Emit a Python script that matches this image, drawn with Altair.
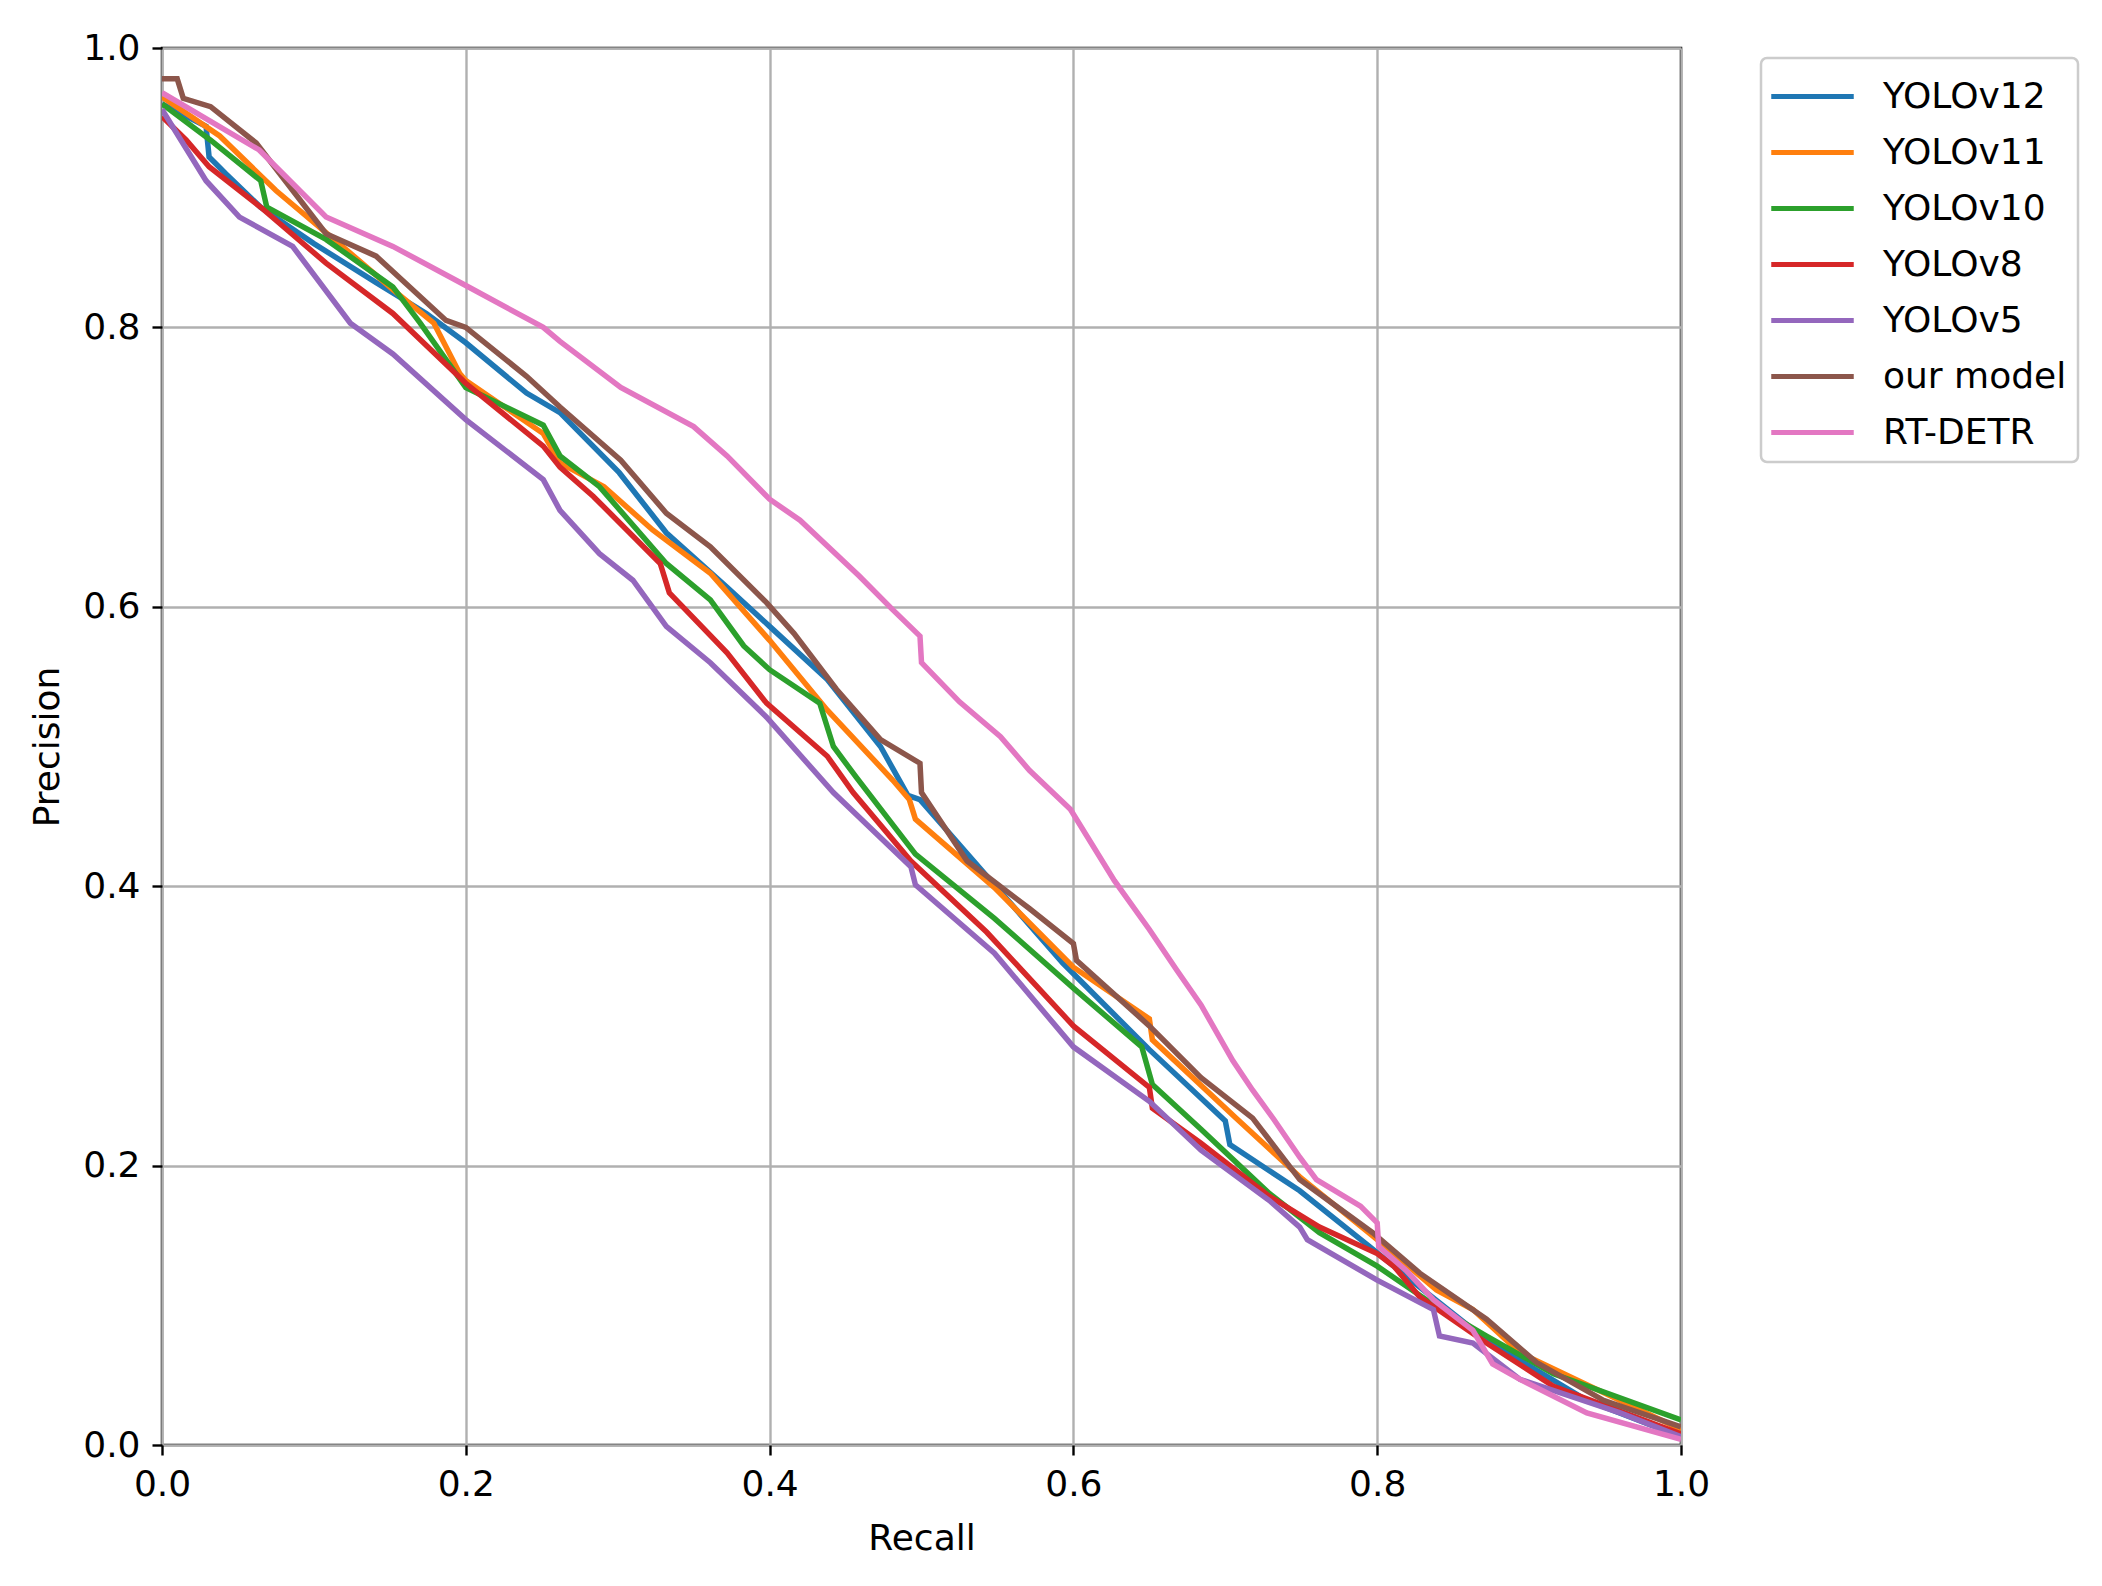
import altair as alt
import pandas as pd

models = ["YOLOv12", "YOLOv11", "YOLOv10", "YOLOv8", "YOLOv5", "our model", "RT-DETR"]
colors = ["#1f77b4", "#ff7f0e", "#2ca02c", "#d62728", "#9467bd", "#8c564b", "#e377c2"]

r_yolov12 = [0.0, 0.029, 0.031, 0.042, 0.065, 0.100, 0.141, 0.174, 0.200, 0.240, 0.262, 0.301, 0.332, 0.372, 0.400, 0.438, 0.473, 0.491, 0.499, 0.548, 0.593, 0.650, 0.700, 0.703, 0.749, 0.795, 0.828, 0.872, 0.938, 1.0]
p_yolov12 = [0.960, 0.944, 0.922, 0.910, 0.886, 0.860, 0.832, 0.810, 0.789, 0.753, 0.739, 0.696, 0.653, 0.614, 0.586, 0.548, 0.500, 0.465, 0.462, 0.401, 0.345, 0.283, 0.232, 0.215, 0.182, 0.142, 0.113, 0.075, 0.032, 0.006]

r_yolov11 = [0.0, 0.038, 0.075, 0.122, 0.152, 0.179, 0.196, 0.200, 0.251, 0.262, 0.291, 0.323, 0.361, 0.400, 0.438, 0.481, 0.492, 0.496, 0.548, 0.600, 0.650, 0.652, 0.707, 0.749, 0.800, 0.839, 0.863, 0.894, 1.0]
p_yolov11 = [0.965, 0.937, 0.898, 0.855, 0.827, 0.803, 0.767, 0.762, 0.724, 0.703, 0.686, 0.655, 0.624, 0.576, 0.526, 0.476, 0.462, 0.448, 0.399, 0.342, 0.305, 0.290, 0.234, 0.192, 0.147, 0.111, 0.097, 0.066, 0.011]

r_yolov10 = [0.0, 0.032, 0.065, 0.069, 0.108, 0.152, 0.170, 0.200, 0.251, 0.262, 0.288, 0.332, 0.361, 0.383, 0.400, 0.433, 0.442, 0.457, 0.496, 0.548, 0.600, 0.645, 0.652, 0.684, 0.729, 0.762, 0.800, 0.839, 0.872, 0.916, 1.0]
p_yolov10 = [0.960, 0.934, 0.905, 0.886, 0.863, 0.829, 0.803, 0.757, 0.730, 0.708, 0.686, 0.631, 0.605, 0.572, 0.555, 0.531, 0.500, 0.478, 0.423, 0.377, 0.327, 0.285, 0.258, 0.226, 0.180, 0.152, 0.128, 0.099, 0.078, 0.051, 0.018]

r_yolov8 = [0.0, 0.016, 0.031, 0.065, 0.108, 0.152, 0.200, 0.251, 0.262, 0.284, 0.328, 0.334, 0.372, 0.398, 0.438, 0.455, 0.493, 0.543, 0.600, 0.650, 0.652, 0.684, 0.729, 0.762, 0.800, 0.811, 0.828, 0.872, 0.916, 1.0]
p_yolov8 = [0.951, 0.934, 0.915, 0.886, 0.846, 0.810, 0.760, 0.715, 0.700, 0.679, 0.631, 0.610, 0.567, 0.531, 0.493, 0.467, 0.418, 0.367, 0.300, 0.256, 0.241, 0.216, 0.178, 0.156, 0.137, 0.128, 0.106, 0.073, 0.042, 0.008]

r_yolov5 = [0.0, 0.029, 0.051, 0.086, 0.124, 0.152, 0.200, 0.251, 0.262, 0.288, 0.310, 0.332, 0.361, 0.398, 0.442, 0.493, 0.496, 0.548, 0.600, 0.650, 0.684, 0.729, 0.749, 0.754, 0.800, 0.837, 0.841, 0.863, 0.894, 0.960, 1.0]
p_yolov5 = [0.956, 0.905, 0.879, 0.858, 0.803, 0.781, 0.734, 0.691, 0.669, 0.638, 0.619, 0.586, 0.560, 0.521, 0.467, 0.414, 0.401, 0.352, 0.285, 0.246, 0.211, 0.175, 0.156, 0.147, 0.118, 0.097, 0.078, 0.073, 0.047, 0.023, 0.006]

r_ours = [0.0, 0.010, 0.014, 0.032, 0.062, 0.108, 0.141, 0.187, 0.200, 0.240, 0.262, 0.302, 0.332, 0.361, 0.398, 0.416, 0.444, 0.473, 0.499, 0.500, 0.530, 0.571, 0.600, 0.602, 0.650, 0.684, 0.718, 0.749, 0.797, 0.828, 0.872, 0.905, 0.949, 1.0]
p_ours = [0.978, 0.978, 0.964, 0.958, 0.932, 0.867, 0.851, 0.805, 0.800, 0.765, 0.743, 0.705, 0.667, 0.643, 0.603, 0.581, 0.541, 0.505, 0.488, 0.467, 0.418, 0.384, 0.359, 0.347, 0.300, 0.263, 0.234, 0.190, 0.152, 0.123, 0.090, 0.059, 0.032, 0.013]

r_rtdetr = [0.0, 0.064, 0.108, 0.152, 0.200, 0.251, 0.262, 0.302, 0.350, 0.372, 0.400, 0.420, 0.459, 0.481, 0.499, 0.500, 0.525, 0.552, 0.571, 0.598, 0.627, 0.650, 0.668, 0.684, 0.705, 0.718, 0.732, 0.749, 0.760, 0.789, 0.800, 0.801, 0.819, 0.837, 0.863, 0.876, 0.894, 0.938, 1.0]
p_rtdetr = [0.968, 0.927, 0.879, 0.858, 0.830, 0.800, 0.790, 0.757, 0.729, 0.708, 0.677, 0.662, 0.622, 0.598, 0.579, 0.560, 0.532, 0.507, 0.483, 0.455, 0.404, 0.369, 0.340, 0.315, 0.275, 0.254, 0.233, 0.206, 0.190, 0.171, 0.159, 0.142, 0.125, 0.104, 0.082, 0.058, 0.047, 0.023, 0.004]

series = [
    ("YOLOv12", r_yolov12, p_yolov12),
    ("YOLOv11", r_yolov11, p_yolov11),
    ("YOLOv10", r_yolov10, p_yolov10),
    ("YOLOv8", r_yolov8, p_yolov8),
    ("YOLOv5", r_yolov5, p_yolov5),
    ("our model", r_ours, p_ours),
    ("RT-DETR", r_rtdetr, p_rtdetr),
]

rows = []
for name, rs, ps in series:
    for i, (r, p) in enumerate(zip(rs, ps)):
        rows.append({"model": name, "recall": r, "precision": p, "idx": i})
df = pd.DataFrame(rows)

FONT = "DejaVu Sans"
W, H = 1519, 1397
ticks = [0, 0.2, 0.4, 0.6, 0.8, 1.0]

chart = alt.Chart(df).mark_line(strokeWidth=5.5, clip=True).encode(
    x=alt.X("recall:Q", scale=alt.Scale(domain=[0, 1], nice=False),
            axis=alt.Axis(title="Recall", values=ticks, format=".1f", labelFlush=False,
                          titleY=93, titleX=W / 2, titleBaseline="middle", titleAlign="center")),
    y=alt.Y("precision:Q", scale=alt.Scale(domain=[0, 1], nice=False),
            axis=alt.Axis(title="Precision", values=ticks, format=".1f", labelFlush=False,
                          titleX=-115, titleY=H / 2, titleBaseline="middle", titleAlign="center")),
    color=alt.Color("model:N", title=None,
                    scale=alt.Scale(domain=models, range=colors),
                    sort=models,
                    legend=alt.Legend(orient="none", legendX=1599, legendY=10,
                                      symbolType="M-1.65,0H1.65", symbolSize=2500,
                                      symbolStrokeWidth=5, symbolOffset=13,
                                      labelOffset=43, labelFontSize=36, labelFont=FONT,
                                      labelColor="#000000", labelLimit=0, rowPadding=10,
                                      strokeColor="#cccccc", fillColor="#ffffff",
                                      padding=11, cornerRadius=6)),
    order=alt.Order("idx:Q"),
).properties(
    width=W, height=H,
    autosize=alt.AutoSizeParams(type="none"),
    padding={"left": 154, "top": 40, "right": 413, "bottom": 133},
).configure_view(
    stroke="#000000", strokeWidth=2.5
).configure_axis(
    domain=False, grid=True, gridColor="#b0b0b0", gridWidth=2.4,
    tickColor="#000000", tickSize=10, tickWidth=2.4,
    labelFont=FONT, labelFontSize=36, labelColor="#000000", labelPadding=12,
    titleFont=FONT, titleFontSize=36, titleColor="#000000", titleFontWeight="normal",
).configure_legend(
    strokeWidth=2.5
)

chart.save("out.html", embed_options={"renderer": "svg", "actions": False})
